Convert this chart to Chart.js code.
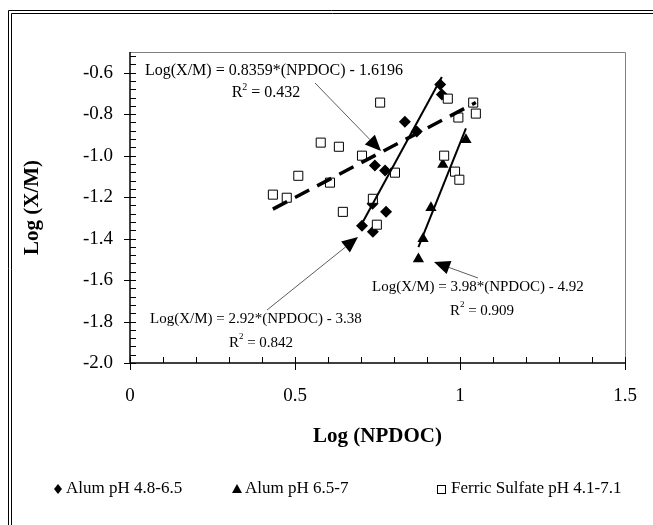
<!DOCTYPE html>
<html><head><meta charset="utf-8">
<script src="https://cdn.jsdelivr.net/npm/chart.js@4/dist/chart.umd.min.js"></script>
<style>html,body{margin:0;padding:0;background:#fff}#wrap{width:653px;height:525px}</style>
</head><body><div id="wrap"><canvas id="c" width="653" height="525"></canvas></div>
<script>
// ---- data ----
const seriesNames = ["Alum pH 4.8-6.5", "Alum pH 6.5-7", "Ferric Sulfate pH 4.1-7.1"];
const alumLowX = [0.703, 0.735, 0.736, 0.742, 0.773, 0.776, 0.833, 0.869, 0.940, 0.945];
const alumLowY = [-1.338, -1.232, -1.367, -1.048, -1.072, -1.271, -0.836, -0.884, -0.657, -0.705];
const alumHighX = [0.874, 0.888, 0.912, 0.948, 1.018];
const alumHighY = [-1.498, -1.401, -1.251, -1.043, -0.923];
const ferricX = [0.433, 0.475, 0.510, 0.578, 0.606, 0.633, 0.645, 0.703, 0.736, 0.748, 0.758, 0.803, 0.952, 0.963, 0.985, 0.995, 0.998, 1.040, 1.048];
const ferricY = [-1.188, -1.203, -1.097, -0.937, -1.130, -0.957, -1.271, -1.000, -1.208, -1.333, -0.744, -1.082, -1.000, -0.725, -1.077, -0.816, -1.116, -0.744, -0.797];
// trendline coefficients (as printed on the chart)
const fitAlumLow = {slope: 2.92, intercept: -3.38, r2: "0.842", label: "Log(X/M) = 2.92*(NPDOC) - 3.38"};
const fitAlumHigh = {slope: 3.98, intercept: -4.92, r2: "0.909", label: "Log(X/M) = 3.98*(NPDOC) - 4.92"};
const fitFerric = {slope: 0.8359, intercept: -1.6196, r2: "0.432", label: "Log(X/M) = 0.8359*(NPDOC) - 1.6196"};
const xTickValues = [0, 0.5, 1, 1.5];
const yTickValues = [-2.0, -1.8, -1.6, -1.4, -1.2, -1.0, -0.8, -0.6];
const xTitle = "Log (NPDOC)";
const yTitle = "Log (X/M)";

function pts(xs, ys){ return xs.map((x,i)=>({x:x, y:ys[i]})); }
function fitLine(fit, xs){
  const lo = Math.min(...xs), hi = Math.max(...xs);
  return [{x:lo, y:fit.slope*lo+fit.intercept}, {x:hi, y:fit.slope*hi+fit.intercept}];
}

const SERIF = "'Liberation Serif','Times New Roman',serif";

// annotation layout (pixels)
const annotations = [
  {fit: fitFerric, size: 16, text: [145, 71], r2: [266, 93], from: [315, 83], to: [381, 151]},
  {fit: fitAlumLow, size: 15, text: [150, 319], r2: [261, 343], from: [267, 310], to: [358, 237]},
  {fit: fitAlumHigh, size: 15, text: [372, 287], r2: [482, 311], from: [478, 278], to: [434, 262]}
];

const decorPlugin = {
  id: 'decor',
  beforeDraw(chart){
    const c = chart.ctx;
    c.save();
    c.fillStyle = '#fff'; c.fillRect(0,0,chart.width,chart.height);
    c.strokeStyle = '#000'; c.lineWidth = 1;
    c.beginPath();
    c.moveTo(8.5, 600); c.lineTo(8.5, 10.5); c.lineTo(700, 10.5);
    c.moveTo(11.5, 600); c.lineTo(11.5, 13.5); c.lineTo(700, 13.5);
    c.stroke();
    c.restore();
  },
  afterDatasetsDraw(chart){
    const c = chart.ctx, xs = chart.scales.x, ys = chart.scales.y;
    const a = chart.chartArea;
    c.save();
    // plot frame
    c.strokeStyle = '#808080'; c.lineWidth = 1;
    c.beginPath();
    c.moveTo(a.left, a.top + 0.5); c.lineTo(a.right + 0.5, a.top + 0.5); c.lineTo(a.right + 0.5, a.bottom);
    c.stroke();
    // axes
    c.strokeStyle = '#000'; c.lineWidth = 1.5;
    c.beginPath();
    c.moveTo(a.left, a.top); c.lineTo(a.left, a.bottom);
    c.lineTo(a.right, a.bottom);
    c.stroke();
    c.lineWidth = 1;
    c.beginPath();
    // y ticks
    for (let k = 0; k <= 37; k++) {
      const v = -2 + k*0.04;
      const p = Math.round(ys.getPixelForValue(v)) + 0.5;
      const major = (k % 5 === 0);
      c.moveTo(major ? a.left - 6 : a.left, p); c.lineTo(a.left + 6, p);
    }
    // x ticks
    for (let k = 0; k <= 15; k++) {
      const v = k*0.1;
      const p = Math.round(xs.getPixelForValue(v)) + 0.5;
      const major = (k % 5 === 0);
      c.moveTo(p, a.bottom - 6); c.lineTo(p, major ? a.bottom + 7 : a.bottom);
    }
    c.stroke();

    // annotations
    c.fillStyle = '#000';
    c.textBaseline = 'middle';
    annotations.forEach(an => {
      const fs = an.size, fsSup = Math.round(fs*0.62);
      c.textAlign = 'left';
      c.font = fs + "px " + SERIF;
      c.fillText(an.fit.label, an.text[0], an.text[1]);
      // R^2
      const rTxt = " = " + an.fit.r2;
      const wR = c.measureText("R").width;
      const wT = c.measureText(rTxt).width;
      c.font = fsSup + "px " + SERIF;
      const w2 = c.measureText("2").width;
      const total = wR + w2 + wT;
      let x0 = an.r2[0] - total/2;
      c.font = fs + "px " + SERIF;
      c.fillText("R", x0, an.r2[1]);
      c.fillText(rTxt, x0 + wR + w2, an.r2[1]);
      c.font = fsSup + "px " + SERIF;
      c.fillText("2", x0 + wR, an.r2[1] - 6);
      // arrow
      const [x1,y1] = an.from, [x2,y2] = an.to;
      const ang = Math.atan2(y2-y1, x2-x1);
      const L = 16, W = 7;
      const bx = x2 - L*Math.cos(ang), by = y2 - L*Math.sin(ang);
      c.strokeStyle = '#333'; c.lineWidth = 0.8;
      c.beginPath(); c.moveTo(x1,y1); c.lineTo(bx,by); c.stroke();
      c.beginPath();
      c.moveTo(x2,y2);
      c.lineTo(bx + W*Math.sin(ang), by - W*Math.cos(ang));
      c.lineTo(bx - W*Math.sin(ang), by + W*Math.cos(ang));
      c.closePath(); c.fill();
    });

    // axis titles
    c.font = "bold 21px " + SERIF;
    c.textAlign = 'center';
    c.fillText(xTitle, (a.left + a.right)/2, 437);
    c.save();
    c.translate(33, (a.top + a.bottom)/2);
    c.rotate(-Math.PI/2);
    c.fillText(yTitle, 0, 0);
    c.restore();

    // legend
    c.font = "17px " + SERIF;
    c.textAlign = 'left';
    const ly = 489;
    const items = [
      {m: 'diamond', mx: 58, tx: 66},
      {m: 'triangle', mx: 237, tx: 245},
      {m: 'square', mx: 441, tx: 451}
    ];
    items.forEach((it, i) => {
      c.fillStyle = '#000';
      c.beginPath();
      if (it.m === 'diamond') {
        c.moveTo(it.mx, ly-5); c.lineTo(it.mx+4, ly); c.lineTo(it.mx, ly+5); c.lineTo(it.mx-4, ly); c.closePath(); c.fill();
      } else if (it.m === 'triangle') {
        c.moveTo(it.mx, ly-5); c.lineTo(it.mx+5, ly+4); c.lineTo(it.mx-5, ly+4); c.closePath(); c.fill();
      } else {
        c.strokeStyle = '#000'; c.lineWidth = 1;
        c.strokeRect(it.mx-3.5, ly-3.5, 8, 8);
      }
      c.fillText(seriesNames[i], it.tx, ly);
    });
    c.restore();
  }
};

new Chart(document.getElementById('c'), {
  type: 'scatter',
  data: {
    datasets: [
      {label: seriesNames[0], data: pts(alumLowX, alumLowY), pointStyle: 'rectRot', radius: 6, backgroundColor: '#000', borderColor: '#000', borderWidth: 0, order: 3},
      {label: seriesNames[1], data: pts(alumHighX, alumHighY), pointStyle: 'triangle', radius: 6.5, backgroundColor: '#000', borderColor: '#000', borderWidth: 0, order: 2},
      {label: seriesNames[2], data: pts(ferricX, ferricY), pointStyle: 'rect', radius: 6.4, backgroundColor: '#fff', borderColor: '#000', borderWidth: 1, order: 1},
      {label: 'fit1', type: 'line', data: fitLine(fitAlumLow, alumLowX), borderColor: '#000', borderWidth: 2, pointRadius: 0, fill: false, order: 0},
      {label: 'fit2', type: 'line', data: fitLine(fitAlumHigh, alumHighX), borderColor: '#000', borderWidth: 2, pointRadius: 0, fill: false, order: 0},
      {label: 'fit3', type: 'line', data: fitLine(fitFerric, ferricX), borderColor: '#000', borderWidth: 3.5, borderDash: [16, 9], pointRadius: 0, fill: false, order: 0}
    ]
  },
  options: {
    responsive: false,
    animation: false,
    layout: {padding: {left: 0, right: 28, top: 52, bottom: 0}},
    plugins: {legend: {display: false}, tooltip: {enabled: false}},
    scales: {
      x: {
        type: 'linear', min: 0, max: 1.5,
        afterBuildTicks: s => { s.ticks = xTickValues.map(v => ({value: v})); },
        afterFit: s => { s.height = 162; s.paddingLeft = 0; s.paddingRight = 0; },
        grid: {display: false, drawTicks: false},
        border: {display: false},
        ticks: {color: '#000', font: {family: SERIF, size: 19}, padding: 22, maxRotation: 0,
                callback: v => String(v)}
      },
      y: {
        type: 'linear', min: -2.0, max: -0.5,
        afterBuildTicks: s => { s.ticks = yTickValues.map(v => ({value: v})); },
        afterFit: s => { s.width = 130; s.paddingTop = 0; s.paddingBottom = 0; },
        grid: {display: false, drawTicks: false},
        border: {display: false},
        ticks: {color: '#000', font: {family: SERIF, size: 19}, padding: 17,
                callback: v => Number(v).toFixed(1)}
      }
    }
  },
  plugins: [decorPlugin]
});
</script>
</body></html>
